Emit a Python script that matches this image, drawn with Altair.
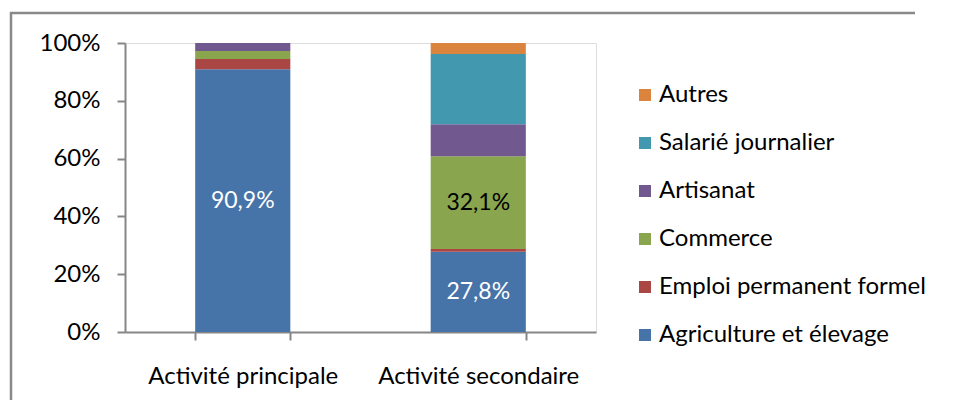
import altair as alt
import pandas as pd

activites = ["Activité principale", "Activité secondaire"]
categories = ["Agriculture et élevage", "Emploi permanent formel", "Commerce",
              "Artisanat", "Salarié journalier", "Autres"]
colors = ["#4673A8", "#AA4643", "#89A54E", "#71588F", "#4198AF", "#DB843D"]
principale = [90.9, 3.6, 2.7, 2.8, 0.0, 0.0]
secondaire = [27.8, 0.9, 32.1, 11.1, 24.3, 3.8]
labelled = {("Activité principale", "Agriculture et élevage"): "white",
            ("Activité secondaire", "Agriculture et élevage"): "white",
            ("Activité secondaire", "Commerce"): "black"}

rows = []
for act, vals in zip(activites, [principale, secondaire]):
    total = sum(vals)
    cum = 0.0
    for i, (cat, v) in enumerate(zip(categories, vals)):
        start = cum / total
        cum += v
        end = cum / total
        lab = labelled.get((act, cat))
        rows.append({"act": act, "cat": cat, "order": i, "v": v,
                     "y0": start, "y1": end, "mid": (start + end) / 2,
                     "txt": (f"{v:.1f}".replace(".", ",") + "%") if lab else "",
                     "tcol": lab or ""})
df = pd.DataFrame(rows)

FONT = "Lato"
FS = 24

xenc = alt.X("act:N", sort=activites, title=None,
             scale=alt.Scale(paddingInner=0.596, paddingOuter=0.298),
             axis=alt.Axis(tickBand="extent", labelAngle=0, labelFontSize=FS,
                           labelColor="#000000", labelFont=FONT, labelPadding=24,
                           labelLimit=400,
                           tickSize=8, tickColor="#868686", tickWidth=2,
                           domainColor="#868686", domainWidth=2))

bars = alt.Chart(df).mark_bar(stroke=None).encode(
    x=xenc,
    y=alt.Y("y0:Q", title=None, scale=alt.Scale(domain=[0, 1], nice=False),
            axis=alt.Axis(format=".0%", values=[0, 0.2, 0.4, 0.6, 0.8, 1.0],
                          labelFontSize=FS, labelColor="#000000", labelFont=FONT,
                          labelPadding=17, tickSize=8, tickColor="#868686",
                          tickWidth=2, domainColor="#868686", domainWidth=2,
                          grid=False)),
    y2="y1:Q",
    color=alt.Color("cat:N", sort=categories,
                    scale=alt.Scale(domain=categories, range=colors),
                    legend=alt.Legend(title=None, orient="none", legendX=508,
                                      legendY=40, direction="vertical",
                                      values=list(reversed(categories)),
                                      symbolType="square",
                                      symbolSize=144, symbolStrokeWidth=0,
                                      labelFontSize=FS, labelFont=FONT,
                                      labelColor="#000000", labelOffset=2,
                                      rowPadding=24, labelLimit=400)),
    order=alt.Order("order:Q"),
)

texts = alt.Chart(df).transform_filter("datum.txt != ''").mark_text(
    fontSize=23, font=FONT, baseline="middle", align="center"
).encode(
    x=alt.X("act:N", sort=activites),
    y=alt.Y("mid:Q"),
    text="txt:N",
    color=alt.Color("tcol:N", scale=None, legend=None),
)

border_top = alt.Chart(pd.DataFrame({"a": [0]})).mark_rule(
    stroke="#898989", strokeWidth=2.5, clip=False
).encode(x=alt.value(-115), x2=alt.value(790), y=alt.value(-30))
border_left = alt.Chart(pd.DataFrame({"a": [0]})).mark_rule(
    stroke="#898989", strokeWidth=2.5, clip=False
).encode(x=alt.value(-114), y=alt.value(-31), y2=alt.value(400))

chart = alt.layer(border_top, border_left, bars, texts).resolve_scale(color="independent").properties(
    width=471, height=289,
    padding={"left": 117, "top": 35, "right": 352, "bottom": 68},
    autosize=alt.AutoSizeParams(type="none"),
).configure_view(stroke="#7BA0D4", strokeWidth=2).configure(background="white")

chart.save("out.html", embed_options={"renderer": "svg", "actions": False})
